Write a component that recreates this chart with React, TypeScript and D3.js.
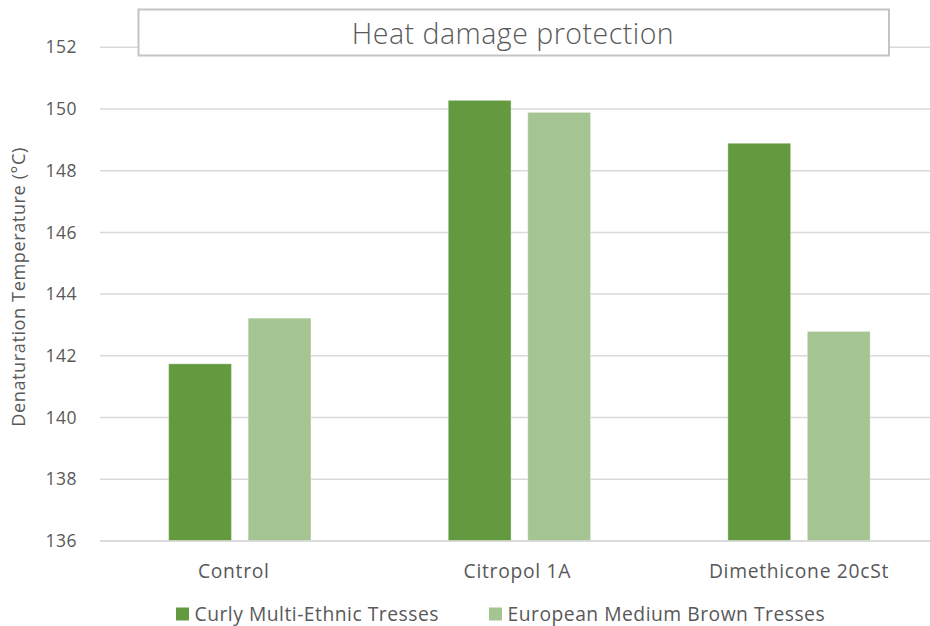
import React from "react";
import * as d3 from "d3";

const categories = ["Control", "Citropol 1A", "Dimethicone 20cSt"];
const seriesNames = ["Curly Multi-Ethnic Tresses", "European Medium Brown Tresses"];
const curly = [141.74, 150.28, 148.89];
const european = [143.22, 149.89, 142.79];
const yTicks = [136, 138, 140, 142, 144, 146, 148, 150, 152];
const colors = ["#639a3f", "#a4c491"];
const title = "Heat damage protection";
const yTitle = "Denaturation Temperature (°C)";

const W = 930;
const H = 626;
const FONT = "'Open Sans', Lato, sans-serif";
const TXT = "#595959";

export default function App() {
  const x = d3.scaleBand<string>().domain(categories).range([100, 938.8]).paddingInner(0).paddingOuter(0);
  const y = d3.scaleLinear().domain([136, 152]).range([540.9, 47.3]);
  const inner = d3.scaleBand<number>().domain([0, 1]).range([0, 142.3]).paddingInner(0.21);
  const groupOffset = (x.bandwidth() - 142.3) / 2;
  const series = [curly, european];

  return (
    <svg width={W} height={H} style={{ position: "absolute", left: 0, top: 0, fontFamily: FONT }}>
      <rect width={W} height={H} fill="#ffffff" />
      {yTicks.map((t) => (
        <g key={t}>
          <line x1={100} x2={W} y1={y(t)} y2={y(t)} stroke="#d9d9d9" strokeWidth={1.5} />
          <text x={77} y={y(t)} dy="0.35em" textAnchor="end" fontSize={17.5} letterSpacing={0.5} fill={TXT}>
            {t}
          </text>
        </g>
      ))}
      {categories.map((c, i) =>
        series.map((s, j) => (
          <rect
            key={c + j}
            x={(x(c) as number) + groupOffset + (inner(j) as number)}
            y={y(s[i])}
            width={inner.bandwidth()}
            height={y(136) - y(s[i])}
            fill={colors[j]}
            stroke="#ffffff"
            strokeOpacity={0.35}
            strokeWidth={1}
          />
        ))
      )}
      <line x1={100} x2={W} y1={y(136)} y2={y(136)} stroke="#d9d9d9" strokeWidth={1.5} />
      {categories.map((c, i) => (
        <text
          key={c}
          x={(x(c) as number) + x.bandwidth() / 2 - (i === 0 ? 6 : i === 1 ? 2 : 0)}
          y={578}
          textAnchor="middle"
          fontSize={19.3}
          letterSpacing={0.7}
          fill={TXT}
        >
          {c}
        </text>
      ))}
      <text
        transform={`translate(25, 287) rotate(-90)`}
        textAnchor="middle"
        fontSize={18.2}
        letterSpacing={0.55}
        fill={TXT}
      >
        {yTitle}
      </text>
      <rect x={138.5} y={9.5} width={750.5} height={46} fill="#ffffff" stroke="#c4c4c4" strokeWidth={2} />
      <text x={513} y={44} textAnchor="middle" fontSize={28.5} letterSpacing={0.5} fill={TXT} fontWeight={300}>
        {title}
      </text>
      {seriesNames.map((n, j) => {
        const lx = j === 0 ? 176 : 489;
        return (
          <g key={n}>
            <rect x={lx} y={607.5} width={13} height={13} fill={colors[j]} />
            <text x={lx + 18.5} y={621} fontSize={19.3} letterSpacing={0.5} fill={TXT}>
              {n}
            </text>
          </g>
        );
      })}
    </svg>
  );
}
